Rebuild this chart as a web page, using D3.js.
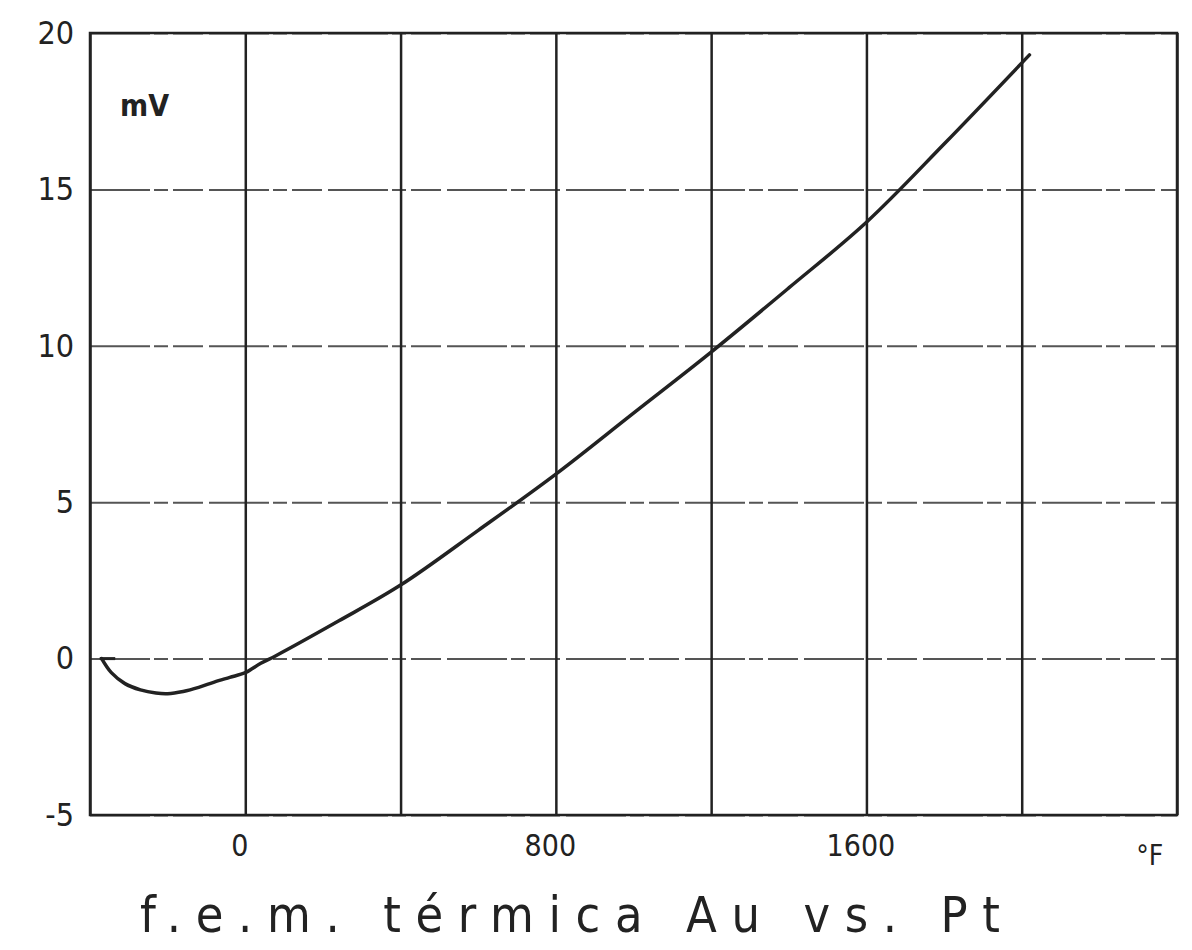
<!DOCTYPE html>
<html>
<head>
<meta charset="utf-8">
<script src="https://cdn.jsdelivr.net/npm/d3@7"></script>
<style>
  body { margin: 0; background: #fff; }
  text { font-family: "DejaVu Sans Condensed", "DejaVu Sans", sans-serif; fill: #222; }
</style>
</head>
<body>
<svg id="chart" width="1192" height="950"></svg>
<script>
// temperature in °F, e.m.f. in mV
const tempF = [-370, -345, -310, -270, -230, -200, -160, -120, -80, -40, 0, 40, 80, 240, 400, 600, 800, 1000, 1200, 1400, 1600, 1800, 2020];
const emf   = [0, -0.45, -0.8, -1.0, -1.1, -1.12, -1.05, -0.92, -0.75, -0.6, -0.45, -0.15, 0.1, 1.2, 2.35, 4.1, 5.9, 7.85, 9.8, 11.85, 13.95, 16.45, 19.3];

const xGrid = [-400, 0, 400, 800, 1200, 1600, 2000, 2400];
const xLabels = [0, 800, 1600];
const yTicks = [-5, 0, 5, 10, 15, 20];
const title = "f.e.m. térmica Au vs. Pt";

const svg = d3.select("#chart");
const plotLeft = 90, plotRight = 1177, plotTop = 33, plotBottom = 815;

const x = d3.scaleLinear().domain([-400, 2400]).range([plotLeft, plotRight]);
const y = d3.scaleLinear().domain([-5, 20]).range([plotBottom, plotTop]);

// horizontal grid + y labels
const yAxis = svg.append("g")
	.attr("transform", `translate(${plotLeft},0)`)
	.call(d3.axisLeft(y).tickValues(yTicks).tickSize(-(plotRight - plotLeft)).tickPadding(16)
		.tickFormat(d => d));
yAxis.select(".domain").remove();
yAxis.selectAll(".tick line")
	.attr("stroke", "#555")
	.attr("stroke-width", 2)
	.attr("stroke-dasharray", "60 4 14 5 30 6");
yAxis.selectAll(".tick text")
	.style("font-size", "32px")
	.attr("fill", "#222");

// vertical grid + x labels
const xAxis = svg.append("g")
	.attr("transform", `translate(0,${plotBottom})`)
	.call(d3.axisBottom(x).tickValues(xGrid).tickSize(-(plotBottom - plotTop)).tickPadding(20)
		.tickFormat(d => xLabels.includes(d) ? d : ""));
xAxis.select(".domain").remove();
xAxis.selectAll(".tick line")
	.attr("stroke", "#222")
	.attr("stroke-width", 2.5);
xAxis.selectAll(".tick text")
	.style("font-size", "30px")
	.attr("fill", "#333")
	.attr("dx", -6);

// frame
svg.append("rect")
	.attr("x", plotLeft).attr("y", plotTop)
	.attr("width", plotRight - plotLeft).attr("height", plotBottom - plotTop)
	.attr("fill", "none")
	.attr("stroke", "#222")
	.attr("stroke-width", 2.5);

// unit labels
svg.append("text")
	.attr("x", 120).attr("y", 116)
	.style("font-size", "30px")
	.style("font-weight", "bold")
	.attr("fill", "#333")
	.text("mV");

svg.append("text")
	.attr("x", x(2330)).attr("y", plotBottom + 50)
	.attr("text-anchor", "middle")
	.style("font-size", "28px")
	.attr("fill", "#333")
	.text("°F");

// curve
const pts = tempF.map((t, i) => [t, emf[i]]);
const line = d3.line()
	.x(d => x(d[0]))
	.y(d => y(d[1]))
	.curve(d3.curveCatmullRom);

svg.append("path")
	.datum(pts)
	.attr("d", line)
	.attr("fill", "none")
	.attr("stroke", "#222")
	.attr("stroke-width", 3.5)
	.attr("stroke-linecap", "round");

// small stub at the start of the curve
svg.append("line")
	.attr("x1", x(-375)).attr("x2", x(-335))
	.attr("y1", y(0)).attr("y2", y(0))
	.attr("stroke", "#222")
	.attr("stroke-width", 3);

// title
svg.append("text")
	.attr("x", 140).attr("y", 932)
	.attr("textLength", 860)
	.attr("lengthAdjust", "spacing")
	.style("font-size", "50px")
	.attr("fill", "#222")
	.text(title);
</script>
</body>
</html>
